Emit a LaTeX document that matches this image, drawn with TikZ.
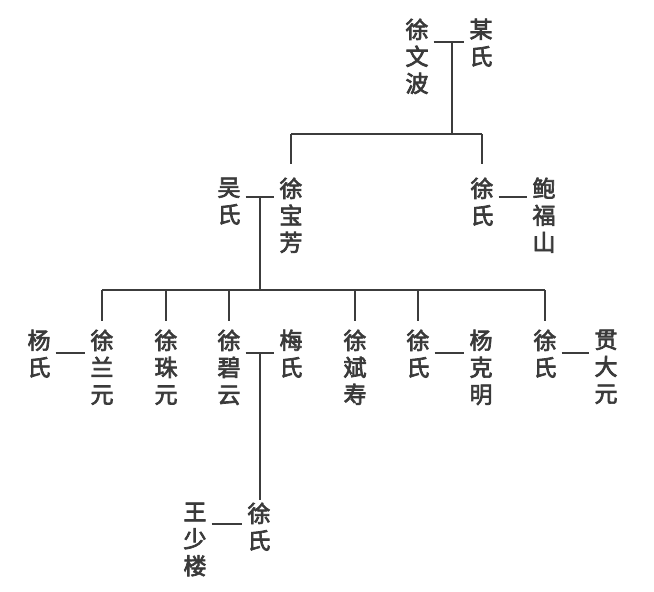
\documentclass[tikz,border=0pt]{standalone}
\usepackage{fontspec}
\newfontfamily\cjk[FakeBold=3]{Noto Sans CJK SC}
\definecolor{ink}{HTML}{3A3A3A}
\definecolor{lineink}{HTML}{3C3C3C}
\begin{document}
\begin{tikzpicture}[x=1pt,y=-1pt,
  vt/.style={font=\cjk\fontsize{23}{27}\selectfont, align=center, inner sep=0pt, anchor=north, text=ink},
  ln/.style={draw=lineink, line width=1.3pt},
  wed/.style={ln, shorten <=5pt, shorten >=5pt}]
\useasboundingbox (0,0) rectangle (654,592);
% generation 1
\node[vt] (xwb) at (417,18.5) {徐\\文\\波};
\node[vt] (ms)  at (481,18.5) {某\\氏};
\coordinate (m1) at (452,42);
\coordinate (b1) at (452,134);
\draw[wed] (xwb.east |- m1) -- (ms.west |- m1);
\draw[ln] (m1) -- (b1);
% generation 2
\node[vt] (ws)  at (229,177.5) {吴\\氏};
\node[vt] (xbf) at (291,177.5) {徐\\宝\\芳};
\node[vt] (xs1) at (482,177.5) {徐\\氏};
\node[vt] (bfs) at (544,177.5) {鲍\\福\\山};
\draw[ln] (xbf.north |- b1) -- (xs1.north |- b1);
\draw[ln, shorten >=14pt] (xbf.north |- b1) -- (xbf.north);
\draw[ln, shorten >=14pt] (xs1.north |- b1) -- (xs1.north);
\coordinate (m2) at (260,197);
\coordinate (b2) at (260,290);
\draw[wed] (ws.east |- m2) -- (xbf.west |- m2);
\draw[wed] (xs1.east |- m2) -- (bfs.west |- m2);
\draw[ln] (m2) -- (b2);
% generation 3
\node[vt] (ys)  at (39,329.5)  {杨\\氏};
\node[vt] (xly) at (102,329.5) {徐\\兰\\元};
\node[vt] (xzy) at (166,329.5) {徐\\珠\\元};
\node[vt] (xby) at (229,329.5) {徐\\碧\\云};
\node[vt] (mes) at (291,329.5) {梅\\氏};
\node[vt] (xbs) at (355,329.5) {徐\\斌\\寿};
\node[vt] (xs2) at (418,329.5) {徐\\氏};
\node[vt] (ykm) at (481,329.5) {杨\\克\\明};
\node[vt] (xs3) at (545,329.5) {徐\\氏};
\node[vt] (gdy) at (606,329.5) {贯\\大\\元};
\draw[ln] (xly.north |- b2) -- (xs3.north |- b2);
\foreach \c in {xly,xzy,xby,xbs,xs2,xs3}
  \draw[ln, shorten >=9pt] (\c.north |- b2) -- (\c.north);
\coordinate (m3) at (260,353);
\draw[wed] (ys.east |- m3) -- (xly.west |- m3);
\draw[wed] (xby.east |- m3) -- (mes.west |- m3);
\draw[wed] (xs2.east |- m3) -- (ykm.west |- m3);
\draw[wed] (xs3.east |- m3) -- (gdy.west |- m3);
% generation 4
\node[vt] (wsl) at (195,502.5) {王\\少\\楼};
\node[vt] (xs4) at (259,502.5) {徐\\氏};
\coordinate (m4) at (227,524);
\draw[ln, shorten >=3pt] (m3) -- (m3 |- xs4.north);
\draw[wed] (wsl.east |- m4) -- (xs4.west |- m4);
\end{tikzpicture}
\end{document}
